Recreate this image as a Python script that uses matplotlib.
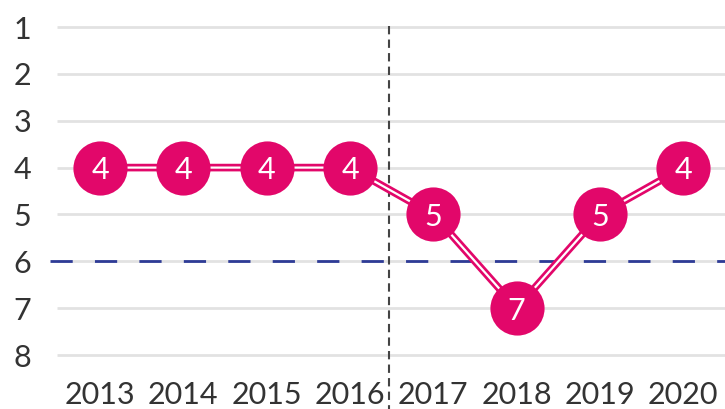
import matplotlib.pyplot as plt

years = ['2013', '2014', '2015', '2016', '2017', '2018', '2019', '2020']
ranks = [4, 4, 4, 4, 5, 7, 5, 4]
target = 6
ranks_axis = [1, 2, 3, 4, 5, 6, 7, 8]

pink = '#E2076A'
plt.rcParams['font.family'] = ['Lato', 'DejaVu Sans']

fig = plt.figure(figsize=(7.25, 4.09), dpi=100)
ax = fig.add_axes([0, 0, 1, 1])
ax.set_position([50/725, 1 - 370/409, 675/725, 350/409])

x = list(range(len(years)))
ax.set_xlim(-0.6, 7.5)
ax.set_ylim(8.32, 0.85)

# grid
ax.hlines(ranks_axis, -0.52, 7.5, color='#e2e2e2', lw=2, zorder=1)
# target line
ax.plot([-0.6, 7.5], [target, target], color='#2E3B96', lw=2,
        dashes=(8, 8), zorder=2)
# divider between 2016 and 2017
ax.plot([3.47, 3.47], [0.98, 9.4], color='#444444', lw=1.5, dashes=(4, 2.5),
        clip_on=False, zorder=2)

# double line
ax.plot(x, ranks, color=pink, lw=5.5, zorder=3, solid_capstyle='butt')
ax.plot(x, ranks, color='white', lw=1.6, zorder=4, solid_capstyle='butt')
ax.plot(x, ranks, 'o', ms=39, color=pink, mec='none', zorder=5)
for xi, r in zip(x, ranks):
    ax.text(xi, r, str(r), color='white', fontsize=22, ha='center',
            va='center_baseline', zorder=6)

ax.set_xticks(x)
ax.set_xticklabels(years)
ax.set_yticks(ranks_axis)
ax.tick_params(length=0, labelsize=22, colors='#333333')
ax.tick_params(axis='y', pad=20)
ax.tick_params(axis='x', pad=8)
for lab in ax.get_yticklabels():
    lab.set_horizontalalignment('center')
for s in ax.spines.values():
    s.set_visible(False)

fig.savefig('out.png', dpi=100)
